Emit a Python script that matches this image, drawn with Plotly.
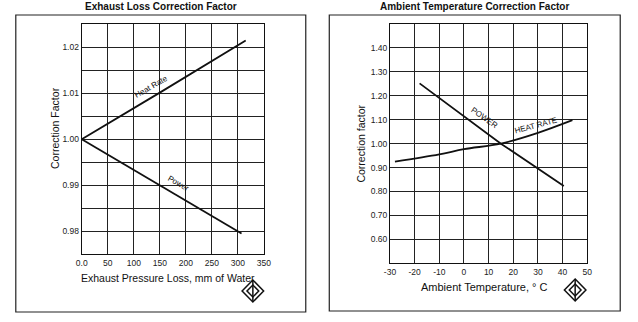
import plotly.graph_objects as go

# Left chart: Exhaust loss correction
exh_x = [0, 150, 315]
exh_heat_rate = [1.000, 1.0101, 1.0214]
exh_power_x = [0, 150, 307]
exh_power = [1.000, 0.990, 0.9795]
exh_xticks = [0, 50, 100, 150, 200, 250, 300, 350]
exh_xticklabels = ["0.0", "50", "100", "150", "200", "250", "300", "350"]
exh_yticks = [0.98, 0.99, 1.00, 1.01, 1.02]
exh_yticklabels = ["0.98", "0.99", "1.00", "1.01", "1.02"]

# Right chart: Ambient temperature correction
amb_power_x = [-18, 15, 40.5]
amb_power = [1.252, 1.000, 0.823]
amb_hr_x = [-28, -10, 0, 15, 30, 44]
amb_hr = [0.925, 0.955, 0.977, 1.000, 1.045, 1.098]
amb_xticks = [-30, -20, -10, 0, 10, 20, 30, 40, 50]
amb_xticklabels = ["-30", "-20", "-10", "0", "10", "20", "30", "40", "50"]
amb_yticks = [0.6, 0.7, 0.8, 0.9, 1.0, 1.1, 1.2, 1.3, 1.4]
amb_yticklabels = ["0.60", "0.70", "0.80", "0.90", "1.00", "1.10", "1.20", "1.30", "1.40"]

W, H = 638, 322
def px(x): return x / W
def py(y): return 1 - y / H

FONT = "Liberation Sans, Arial, sans-serif"
line = dict(color="#111", width=1.8)

fig = go.Figure()
fig.add_trace(go.Scatter(x=exh_x, y=exh_heat_rate, mode="lines", line=line, xaxis="x", yaxis="y", showlegend=False))
fig.add_trace(go.Scatter(x=exh_power_x, y=exh_power, mode="lines", line=line, xaxis="x", yaxis="y", showlegend=False))
fig.add_trace(go.Scatter(x=amb_power_x, y=amb_power, mode="lines", line=line, xaxis="x2", yaxis="y2", showlegend=False))
fig.add_trace(go.Scatter(x=amb_hr_x, y=amb_hr, mode="lines", line=dict(color="#111", width=1.8, shape="spline"), xaxis="x2", yaxis="y2", showlegend=False))

axcommon = dict(showline=True, linecolor="#111", linewidth=1.2, mirror=True,
                showgrid=True, gridcolor="#222", gridwidth=1, zeroline=False,
                ticks="", tickfont=dict(family=FONT, size=8.5, color="#222"))

fig.update_layout(
    width=W, height=H, margin=dict(l=0, r=0, t=0, b=0),
    paper_bgcolor="white", plot_bgcolor="white",
    xaxis=dict(axcommon, domain=[px(77.3), px(263.3)], range=[0, 350],
               tickvals=exh_xticks, ticktext=exh_xticklabels, anchor="y"),
    yaxis=dict(axcommon, domain=[py(254.3), py(24)], range=[0.975, 1.025],
               tickvals=exh_yticks, ticktext=exh_yticklabels, anchor="x",
               minor=dict(dtick=0.005, tick0=0.975, showgrid=True, gridcolor="#222", gridwidth=1)),
    xaxis2=dict(axcommon, domain=[px(392), px(593.3)], range=[-30, 50],
                tickvals=amb_xticks, ticktext=amb_xticklabels, anchor="y2"),
    yaxis2=dict(axcommon, domain=[py(263.3), py(24)], range=[0.5, 1.5],
                tickvals=amb_yticks, ticktext=amb_yticklabels, anchor="x2"),
)

def pa(text, x, y, size, angle=0, bold=False):
    return dict(text=f"<b>{text}</b>" if bold else text, x=px(x), y=py(y), xref="paper", yref="paper",
                xanchor="center", yanchor="middle", showarrow=False, textangle=angle,
                font=dict(family=FONT, size=size, color="#111"))

annos = [
    pa("Exhaust Loss Correction Factor", 158, 7, 10, bold=True),
    pa("Ambient Temperature Correction Factor", 478.5, 7, 10, bold=True),
    pa("Exhaust Pressure Loss, mm of Water", 165, 278, 10.5),
    pa("Ambient Temperature, ° C", 488, 287, 11),
    pa("Correction Factor", 50, 128, 10.5, angle=-90),
    pa("Correction factor", 362, 144, 10.5, angle=-90),
    dict(text="Heat Rate", x=140, y=1.0094, xref="x", yref="y", showarrow=False, textangle=-30, yshift=9, xshift=-3,
         xanchor="center", yanchor="middle", font=dict(family=FONT, size=8, color="#111")),
    dict(text="Power", x=180, y=0.988, xref="x", yref="y", showarrow=False, textangle=30, yshift=11, xshift=3,
         xanchor="center", yanchor="middle", font=dict(family=FONT, size=8, color="#111")),
    dict(text="POWER", x=6.8, y=1.066, xref="x2", yref="y2", showarrow=False, textangle=35, yshift=10, xshift=3,
         xanchor="center", yanchor="middle", font=dict(family=FONT, size=8, color="#111")),
    dict(text="HEAT RATE", x=29.2, y=1.043, xref="x2", yref="y2", showarrow=False, textangle=-15, yshift=8,
         xanchor="center", yanchor="middle", font=dict(family=FONT, size=8, color="#111")),
]
fig.update_layout(annotations=annos)

shapes = [
    dict(type="rect", xref="paper", yref="paper", x0=px(10), x1=px(306), y0=py(312), y1=py(15),
         line=dict(color="#222", width=1.2)),
    dict(type="rect", xref="paper", yref="paper", x0=px(330), x1=px(627), y0=py(311), y1=py(15),
         line=dict(color="#222", width=1.2)),
]
# logos (diamonds)
for cx, cy in [(252, 291), (581, 290)]:
    r = 11
    path = f"M {px(cx)},{py(cy-r)} L {px(cx+r)},{py(cy)} L {px(cx)},{py(cy+r)} L {px(cx-r)},{py(cy)} Z"
    shapes.append(dict(type="path", xref="paper", yref="paper", path=path,
                       line=dict(color="#111", width=1.5), fillcolor="white"))
    r2 = 6
    path2 = f"M {px(cx)},{py(cy-r2)} L {px(cx+r2)},{py(cy)} L {px(cx)},{py(cy+r2)} L {px(cx-r2)},{py(cy)} Z"
    shapes.append(dict(type="path", xref="paper", yref="paper", path=path2,
                       line=dict(color="#111", width=1.5), fillcolor="white"))
    shapes.append(dict(type="line", xref="paper", yref="paper", x0=px(cx), x1=px(cx), y0=py(cy-r), y1=py(cy+r),
                       line=dict(color="#111", width=1.5)))
fig.update_layout(shapes=shapes)

fig.write_html("out.html")
